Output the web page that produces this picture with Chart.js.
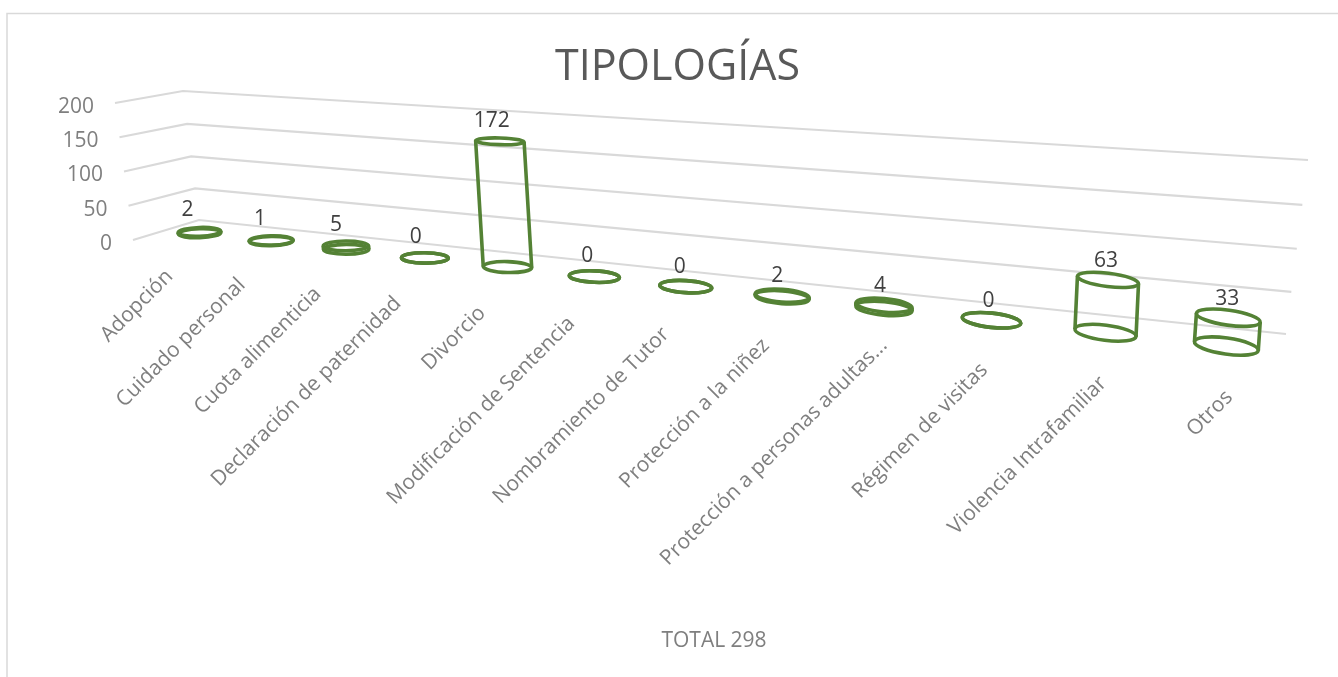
<!DOCTYPE html>
<html lang="es">
<head>
<meta charset="utf-8">
<title>Tipologías</title>
<script src="https://cdn.jsdelivr.net/npm/chart.js@4"></script>
<style>
  html, body { margin: 0; padding: 0; background: #fff; overflow: hidden; }
  canvas { display: block; }
</style>
</head>
<body>
<canvas id="grafico" width="1338" height="677"></canvas>
<script>
// Datos del gráfico
const categorias = ['Adopción', 'Cuidado personal', 'Cuota alimenticia', 'Declaración de paternidad', 'Divorcio', 'Modificación de Sentencia', 'Nombramiento de Tutor', 'Protección a la niñez', 'Protección a personas adultas...', 'Régimen de visitas', 'Violencia Intrafamiliar', 'Otros'];
const valores = [2, 1, 5, 0, 172, 0, 0, 2, 4, 0, 63, 33];
const titulo = 'TIPOLOGÍAS';
const tituloEje = 'TOTAL 298';

const FUENTE = '"Open Sans", sans-serif';
const VERDE = '#548235';
const GRIS_REJILLA = '#d9d9d9';

// Perspectiva: cuadrilátero (inf-izq, inf-der, sup-der, sup-izq) de cada plano
const PARED = [[199, 220], [1286, 334], [1308, 160], [183, 91]];
const PLANO_BARRAS = [[165, 229.4], [1289.6, 353], [1304, 174], [149, 97]];

function crearProyeccion(q) {
    const [[x0, y0], [x1, y1], [x2, y2], [x3, y3]] = q;
    const dx1 = x1 - x2, dx2 = x3 - x2, dx3 = x0 - x1 + x2 - x3;
    const dy1 = y1 - y2, dy2 = y3 - y2, dy3 = y0 - y1 + y2 - y3;
    const det = dx1 * dy2 - dx2 * dy1;
    const g = (dx3 * dy2 - dx2 * dy3) / det;
    const h = (dx1 * dy3 - dx3 * dy1) / det;
    const a = x1 - x0 + g * x1, b = x3 - x0 + h * x3;
    const d = y1 - y0 + g * y1, e = y3 - y0 + h * y3;
    return function(u, v) {
        const w = g * u + h * v + 1;
        return { x: (a * u + b * v + x0) / w, y: (d * u + e * v + y0) / w };
    };
}
const enPared = crearProyeccion(PARED);
const enBarras = crearProyeccion(PLANO_BARRAS);

function elipse(ctx, p, rx, ry, rot) {
    ctx.beginPath();
    ctx.ellipse(p.x, p.y, rx, ry, rot, 0, Math.PI * 2);
    ctx.stroke();
}

// Marco del gráfico, paredes y rejilla
const fondo3d = {
    id: 'fondo3d',
    beforeDatasetsDraw(chart) {
        const ctx = chart.ctx;
        const escalaY = chart.scales.y;
        const area = chart.chartArea;
        ctx.save();
        ctx.strokeStyle = GRIS_REJILLA;
        ctx.lineWidth = 1.5;
        ctx.beginPath();
        ctx.moveTo(7, 677);
        ctx.lineTo(7, 13.5);
        ctx.lineTo(chart.width, 13.5);
        ctx.stroke();

        ctx.lineWidth = 2.2;
        ctx.font = '21px ' + FUENTE;
        ctx.textAlign = 'right';
        ctx.textBaseline = 'middle';
        escalaY.ticks.forEach(function(tick, n) {
            const py = escalaY.getPixelForValue(tick.value);
            const v = (area.bottom - py) / area.height;
            const xFrente = area.left - 18 * v;
            const esquina = enPared(0, v);
            const fin = enPared(1, v);
            ctx.strokeStyle = GRIS_REJILLA;
            ctx.beginPath();
            ctx.moveTo(xFrente, py);
            ctx.lineTo(esquina.x, esquina.y);
            ctx.lineTo(fin.x, fin.y);
            ctx.stroke();
            ctx.fillStyle = '#7f7f7f';
            ctx.fillText(escalaY.ticks[n].label, xFrente - 21, py + 4);
        });
        ctx.restore();
    }
};

// Cilindros, etiquetas de datos y categorías
const cilindros = {
    id: 'cilindros',
    afterDatasetsDraw(chart) {
        const ctx = chart.ctx;
        const area = chart.chartArea;
        const barras = chart.getDatasetMeta(0).data;
        const paso = chart.scales.x.width / categorias.length;
        ctx.save();
        barras.forEach(function(barra, i) {
            const t = i / (barras.length - 1);
            const u = (barra.x - area.left) / area.width;
            const v = (area.bottom - barra.y) / area.height;
            const base = enBarras(u, 0);
            const tope = enBarras(u, v);
            const ancho = enBarras(u + paso / 2 / area.width, 0).x - enBarras(u - paso / 2 / area.width, 0).x;
            const rx = (0.4 * ancho + 14.6) / 2;
            const rot = (-2 + 10 * t) * Math.PI / 180;
            const ryBase = rx * (0.21 + 0.04 * t);
            const ryTope = rx * (0.21 + 0.04 * t - 0.1 * v);
            const cos = Math.cos(rot) * rx, sin = Math.sin(rot) * rx;

            ctx.strokeStyle = VERDE;
            ctx.lineWidth = 3.6;
            elipse(ctx, base, rx, ryBase, rot);
            elipse(ctx, tope, rx, ryTope, rot);
            ctx.beginPath();
            ctx.moveTo(base.x - cos, base.y - sin);
            ctx.lineTo(tope.x - cos, tope.y - sin);
            ctx.moveTo(base.x + cos, base.y + sin);
            ctx.lineTo(tope.x + cos, tope.y + sin);
            ctx.stroke();

            ctx.fillStyle = '#404040';
            ctx.font = '21px ' + FUENTE;
            ctx.textAlign = 'center';
            ctx.textBaseline = 'middle';
            ctx.fillText(String(valores[i]), tope.x - 12 + 11 * t, tope.y - 21.5 + 3 * t);

            // El texto termina junto a la base; la curva sigue el reparto de Excel
            // y la etiqueta cortada con puntos queda algo más arriba
            const cortada = categorias[i].endsWith('...') ? 12 : 0;
            ctx.save();
            ctx.translate(base.x - 30 + 33 * t - 8 * Math.sin(Math.PI * t) + cortada, base.y + 40 + 8 * t - cortada);
            ctx.rotate(-Math.PI / 4);
            ctx.fillStyle = '#7f7f7f';
            ctx.font = '21px ' + FUENTE;
            ctx.textAlign = 'right';
            ctx.fillText(categorias[i], 0, 0);
            ctx.restore();
        });
        ctx.restore();
    }
};

new Chart(document.getElementById('grafico'), {
    type: 'bar',
    data: {
        labels: categorias,
        datasets: [{ data: valores, backgroundColor: 'transparent', borderWidth: 0 }]
    },
    options: {
        responsive: false,
        animation: false,
        layout: { padding: { left: 60, right: 43 } },
        plugins: {
            legend: { display: false },
            tooltip: { enabled: false },
            title: {
                display: true,
                text: titulo,
                color: '#595959',
                font: { family: FUENTE, size: 43, weight: 'normal' },
                padding: { top: 41.5, bottom: 9.9 }
            }
        },
        scales: {
            x: {
                grid: { display: false },
                border: { display: false },
                ticks: { display: false },
                title: {
                    display: true,
                    text: tituloEje,
                    color: '#7f7f7f',
                    font: { family: FUENTE, size: 21 },
                    padding: { top: 0, bottom: 23 }
                },
                afterFit(escala) { escala.height = 437; }
            },
            y: {
                min: 0,
                max: 200,
                grid: { display: false },
                border: { display: false },
                ticks: { display: false, stepSize: 50 },
                afterFit(escala) { escala.width = 73; }
            }
        }
    },
    plugins: [fondo3d, cilindros]
});
</script>
</body>
</html>
